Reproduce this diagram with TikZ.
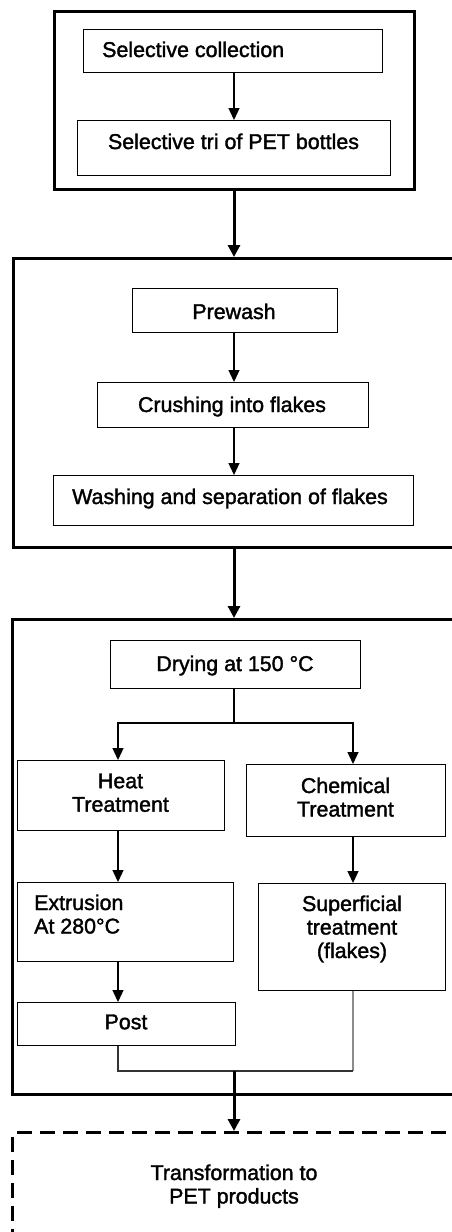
\documentclass[tikz,border=0pt]{standalone}
\usepackage{fontspec}
\setmainfont{Liberation Sans}
\newfontfamily\diagfont{Liberation Sans}[FakeBold=1.6]
\usetikzlibrary{arrows.meta}
\begin{document}
\begin{tikzpicture}[x=1pt,y=-1pt,
  box/.style={draw=black, line width=1.3pt, inner sep=0pt, anchor=north west, fill=none},
  outer/.style={draw=black, line width=3pt, inner sep=0pt, anchor=north west},
  txt/.style={inner sep=0pt, anchor=north, align=center, font=\diagfont\fontsize{21.4}{23.5}\selectfont},
  txtl/.style={txt, anchor=north west, align=left},
  arr/.style={line width=1.3pt, -{Triangle[length=12pt,width=11pt]}},
  thickarr/.style={line width=3pt, -{Triangle[length=12pt,width=12pt]}},
  link/.style={line width=1.3pt}
]
\useasboundingbox (0,0) rectangle (452,1232);
\fill[white] (0,0) rectangle (452,1232);
\coordinate (ax) at (234,0);
\coordinate (hx) at (118,0);
\coordinate (cx) at (353,0);

% group 1
\node[outer, minimum width=360pt, minimum height=178pt] (o1) at (53,10) {};
\node[box, minimum width=299pt, minimum height=43pt] (sc) at (83,29) {};
\node[txtl] (tsc) at (102,41.3) {Selective collection};
\node[box, minimum width=313pt, minimum height=55pt] (st) at (77,120) {};
\node[txt] (tst) at (233.5,133.3) {Selective tri of PET bottles};
\draw[arr] (sc.south -| ax) -- (st.north -| ax);

% group 2
\node[outer, minimum width=470pt, minimum height=289pt] (o2) at (12,257) {};
\node[box, minimum width=205pt, minimum height=44pt] (pw) at (132,288) {};
\node[txt] (tpw) at (234,303.3) {Prewash};
\node[box, minimum width=271pt, minimum height=45pt] (cr) at (97,382) {};
\node[txt] (tcr) at (232,396.3) {Crushing into flakes};
\node[box, minimum width=360pt, minimum height=50pt] (wa) at (53,475) {};
\node[txt] (twa) at (230,488.3) {Washing and separation of flakes};
\draw[arr] (pw.south -| ax) -- (cr.north -| ax);
\draw[arr] (cr.south -| ax) -- (wa.north -| ax);
\draw[thickarr] (o1.south -| ax) -- (o2.north -| ax);

% group 3
\node[outer, minimum width=470pt, minimum height=475pt] (o3) at (11,618) {};
\draw[thickarr] (o2.south -| ax) -- (o3.north -| ax);
\node[box, minimum width=250pt, minimum height=48pt] (dr) at (110,640) {};
\node[txt] (tdr) at (235,655.3) {Drying at 150 °C};
\node[box, minimum width=207pt, minimum height=70pt] (he) at (17,760) {};
\node[txt] (the) at (120.5,773.3) {Heat\\Treatment};
\node[box, minimum width=199pt, minimum height=72pt] (ch) at (246,764) {};
\node[txt] (tch) at (345.5,777.3) {Chemical\\Treatment};
\node[box, minimum width=216pt, minimum height=79pt] (ex) at (17,882) {};
\node[txtl] (tex) at (34,894.3) {Extrusion\\At 280°C};
\node[box, minimum width=187pt, minimum height=107pt] (su) at (258,883) {};
\node[txt] (tsu) at (352,895.3) {Superficial\\treatment\\(flakes)};
\node[box, minimum width=218pt, minimum height=43pt] (po) at (17,1002) {};
\node[txt] (tpo) at (126,1014.3) {Post};

\coordinate (sp) at (234,723);
\draw[link] (dr.south -| sp) -- (sp);
\draw[arr] (sp) -| (he.north -| hx);
\draw[arr] (sp) -| (ch.north -| cx);
\draw[arr] (he.south -| hx) -- (ex.north -| hx);
\draw[arr] (ch.south -| cx) -- (su.north -| cx);
\draw[arr] (ex.south -| hx) -- (po.north -| hx);

\coordinate (mg) at (234,1071);
\draw[black!45, line width=1.2pt] (su.south -| cx) -- (cx |- mg);
\draw[black!80, line width=1.2pt] (po.south -| hx) |- (cx |- mg);

% final
\node[draw=black, line width=3pt, dash pattern=on 15pt off 8pt, inner sep=0pt, anchor=north west,
      minimum width=470pt, minimum height=160pt] (tf) at (11,1131) {};
\node[txt] (ttf) at (234,1164.3) {Transformation to\\PET products};
\draw[thickarr] (mg) -- (tf.north -| ax);
\end{tikzpicture}
\end{document}
